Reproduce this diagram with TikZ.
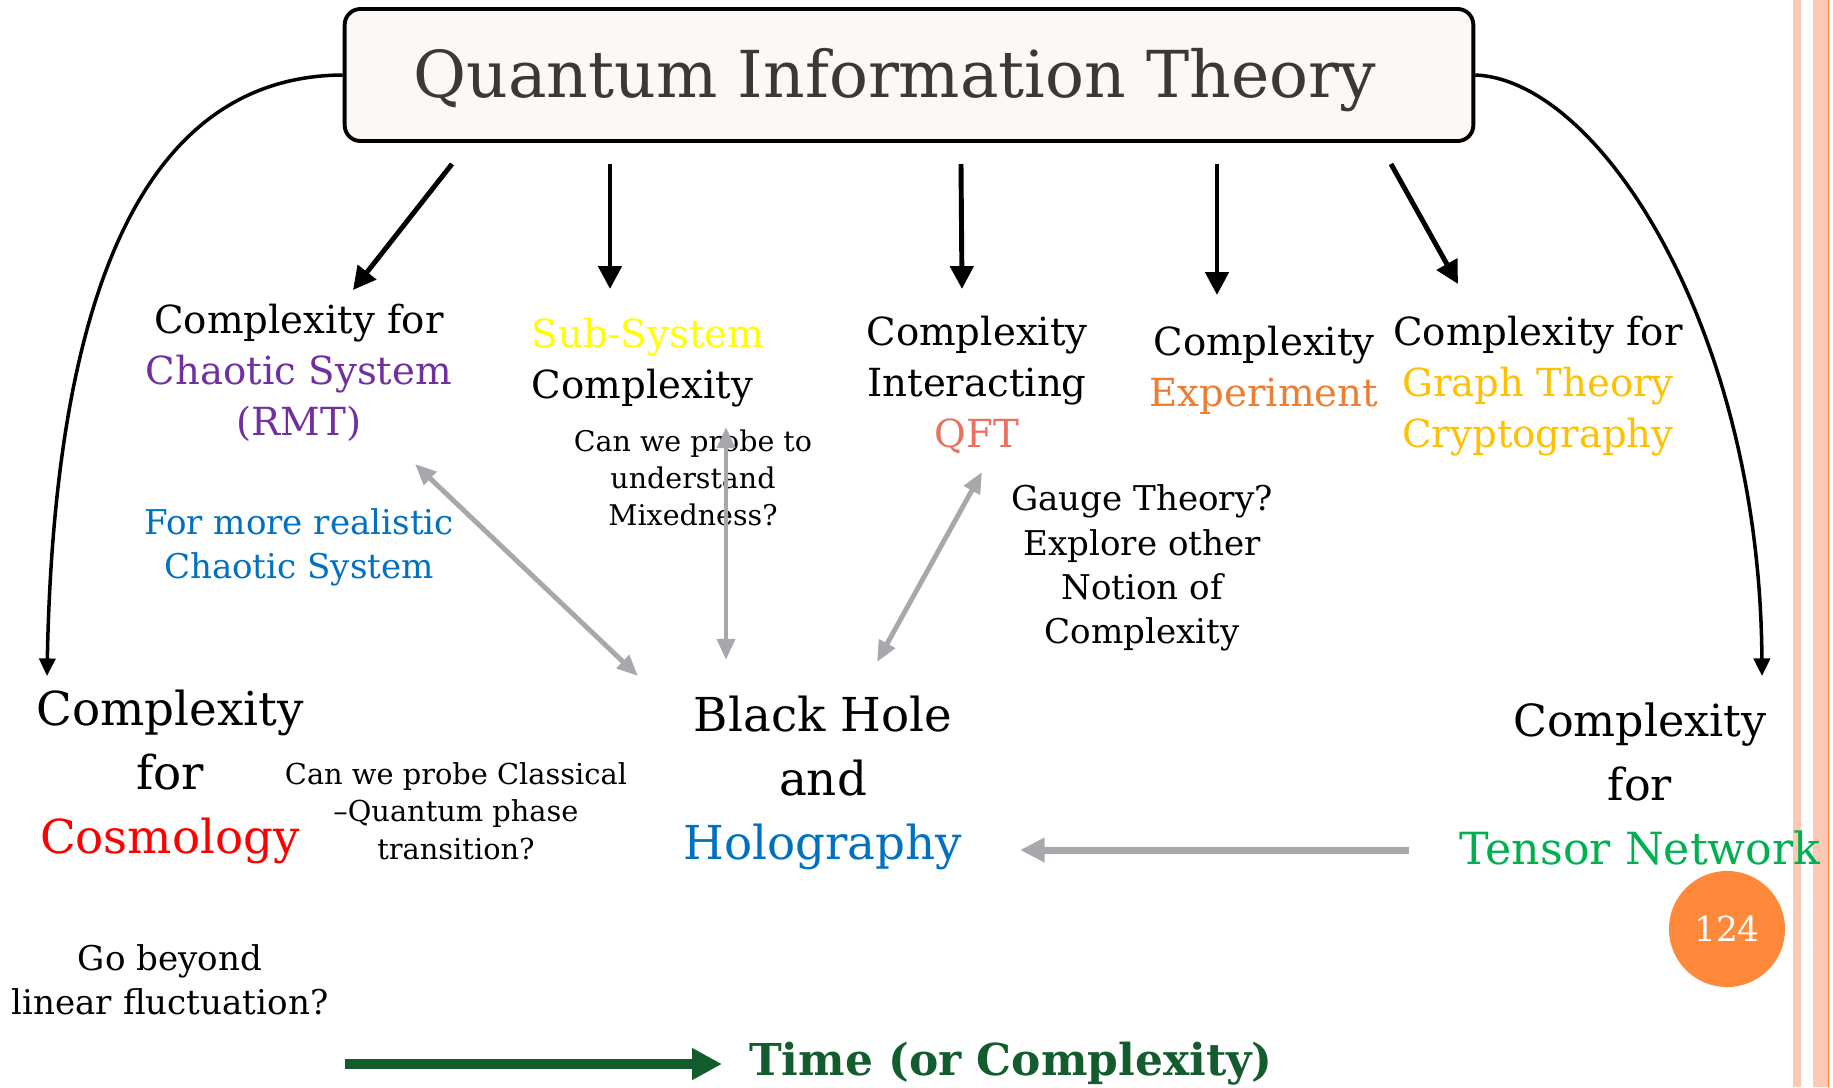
\documentclass[tikz,border=0pt]{standalone}
\usepackage{fontspec}
\setmainfont{DejaVu Serif}
\usetikzlibrary{arrows.meta,calc}
\definecolor{qitgray}{RGB}{60,57,53}
\definecolor{qitfill}{RGB}{252,248,245}
\definecolor{linkgray}{RGB}{166,168,171}
\definecolor{chaospurple}{RGB}{112,48,160}
\definecolor{subyellow}{RGB}{255,255,0}
\definecolor{qftred}{RGB}{234,112,96}
\definecolor{exporange}{RGB}{237,125,49}
\definecolor{graphgold}{RGB}{255,192,0}
\definecolor{holoblue}{RGB}{0,112,192}
\definecolor{cosmored}{RGB}{255,0,0}
\definecolor{tensorgreen}{RGB}{0,176,80}
\definecolor{timegreen}{RGB}{18,92,46}
\definecolor{pageorange}{RGB}{255,137,58}
\definecolor{stripe}{RGB}{251,200,179}
\tikzset{
  lbl/.style     = {align=center, inner sep=0pt, font=\fontsize{11}{14.5}\selectfont},
  biglbl/.style  = {align=center, inner sep=0pt, font=\fontsize{13.3}{18.2}\selectfont},
  note/.style    = {align=center, inner sep=0pt, font=\fontsize{9.7}{12.6}\selectfont},
  smallnote/.style = {align=center, inner sep=0pt, font=\fontsize{8.1}{10.5}\selectfont},
  down/.style    = {-{Triangle[length=6.5pt,width=6.5pt]}, line width=1.4pt},
  sweep/.style   = {-{Triangle[length=5pt,width=4.6pt]}, line width=1pt},
  link/.style    = {{Triangle[length=6pt,width=5pt]}-{Triangle[length=6pt,width=5pt]}, line width=1.4pt, draw=linkgray},
  feed/.style    = {-{Triangle[length=7pt,width=6.6pt]}, line width=2pt, draw=linkgray},
  timeflow/.style = {-{Triangle[length=8.5pt,width=8.5pt]}, line width=2.8pt, draw=timegreen},
}

\begin{document}
\begin{tikzpicture}[x=0.01cm, y=-0.01cm]
  \useasboundingbox (0,0) rectangle (1833,1087);
  % slide border
  \fill[stripe] (1793,0) rectangle (1801,1087);
  \fill[stripe] (1813,0) rectangle (1828,1087);
  \draw[pageorange, line width=0.4pt] (1828.5,0) -- (1828.5,1087);

  \node[draw=black, line width=1.1pt, rounded corners=4.5pt, fill=qitfill,
    minimum width=11.28cm, minimum height=1.32cm, text=qitgray, text height=15pt, text depth=2pt,
    font=\fontsize{18.4}{22}\selectfont] (qit) at (909,75) {Quantum Information Theory\hspace*{8pt}};

  \node[lbl] (chaos) at (299,373) {Complexity for\\\textcolor{chaospurple}{Chaotic System}\\\textcolor{chaospurple}{(RMT)}};
  \node[lbl, align=left] (subsys) at (648,363) {\textcolor{subyellow}{Sub-System}\\Complexity};
  \node[lbl] (qft) at (977,385) {Complexity\\Interacting\\\textcolor{qftred}{QFT}};
  \node[lbl] (expt) at (1264,370) {Complexity\\\textcolor{exporange}{Experiment}};
  \node[lbl] (graph) at (1538,386) {Complexity for\\\textcolor{graphgold}{Graph Theory}\\\textcolor{graphgold}{Cryptography}};

  \node[smallnote] (mixed) at (693,478) {Can we probe to\\understand\\Mixedness?};
  \node[note, text=holoblue] (realistic) at (299,547) {For more realistic\\Chaotic System};
  \node[note] (gauge) at (1142,568) {Gauge Theory?\\Explore other\\Notion of\\Complexity};

  \node[biglbl] (cosmo) at (170,777) {Complexity\\for\\\textcolor{cosmored}{Cosmology}};
  \node[smallnote, font=\fontsize{8.2}{10.7}\selectfont] (classical) at (456,811) {Can we probe Classical\\--Quantum phase\\transition?};
  \node[biglbl] (bhh) at (823,783) {Black Hole\\and\\\textcolor{holoblue}{Holography}};
  \node[biglbl, font=\fontsize{12.6}{18.2}\selectfont] (tensor) at (1640,784) {Complexity\\for\\\textcolor{tensorgreen}{Tensor Network}};
  \node[note] (beyond) at (170,980) {Go beyond\\linear fluctuation?};

  \node[inner sep=0pt, text=timegreen, font=\bfseries\fontsize{12.5}{15}\selectfont] (timelbl) at (1011,1064) {Time (or Complexity)};
  \node[circle, fill=pageorange, minimum size=1.16cm, inner sep=0pt, text=white,
    font=\fontsize{9.8}{11}\selectfont] (page) at (1727,929) {124};

  % arrows out of the title box
  \draw[down] ([shift={(-457,89)}]qit.center) -- ([shift={(54,-83)}]chaos.center);
  \draw[down] ([shift={(-299,89)}]qit.center) -- ([shift={(-38,-74)}]subsys.center);
  \draw[down] ([shift={(52,89)}]qit.center) -- ([shift={(-15,-96)}]qft.center);
  \draw[down] ([shift={(308,89)}]qit.center) -- ([shift={(-47,-75)}]expt.center);
  \draw[down] ([shift={(482,89)}]qit.center) -- ([shift={(-80,-102)}]graph.center);
  \draw[sweep] (qit.west) .. controls (160,76) and (55,260) .. ([shift={(-123,-101)}]cosmo.center);
  \draw[sweep] (qit.east) .. controls (1600,80) and (1760,330) .. ([shift={(122,-108)}]tensor.center);

  % links to black hole / holography
  \draw[link] ([shift={(116,91)}]chaos.center) -- ([shift={(-185,-107)}]bhh.center);
  \draw[link] ([shift={(78,64)}]subsys.center) -- ([shift={(-97,-123)}]bhh.center);
  \draw[link] ([shift={(5,87)}]qft.center) -- ([shift={(54,-121)}]bhh.center);
  \draw[feed] ([shift={(-231,66)}]tensor.center) -- ([shift={(197,67)}]bhh.center);

  \draw[timeflow] ([shift={(-666,0)}]timelbl.center) -- ([shift={(-289,0)}]timelbl.center);
\end{tikzpicture}
\end{document}
